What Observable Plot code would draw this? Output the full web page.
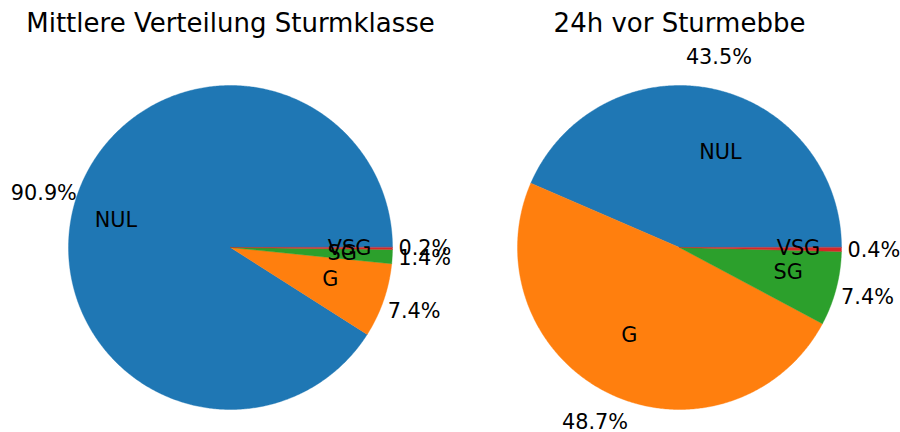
<!DOCTYPE html>
<html>
<head>
<meta charset="utf-8">
<script src="https://cdn.jsdelivr.net/npm/d3@7"></script>
<script src="https://cdn.jsdelivr.net/npm/@observablehq/plot@0.6"></script>
<style>
  html, body { margin: 0; padding: 0; background: #fff; }
</style>
</head>
<body>
<div id="chart"></div>
<script>
const classes = ["NUL", "G", "SG", "VSG"];
const charts = ["Mittlere Verteilung Sturmklasse", "24h vor Sturmebbe"];
const meanShares = [90.9, 7.4, 1.4, 0.2];
const preEbbShares = [43.5, 48.7, 7.4, 0.4];
const colors = ["#1f77b4", "#ff7f0e", "#2ca02c", "#d62728"];

const series = [meanShares, preEbbShares];
const labelDistance = 0.6;
const pctDistance = 1.2;

const polyPoints = [];
const labels = [];
series.forEach((vals, ci) => {
  const total = d3.sum(vals);
  let start = 0;
  vals.forEach((v, i) => {
    const a0 = start / total * 2 * Math.PI;
    const a1 = (start + v) / total * 2 * Math.PI;
    start += v;
    const key = charts[ci] + "|" + classes[i];
    polyPoints.push({chart: charts[ci], cls: classes[i], key, x: 0, y: 0});
    const n = Math.max(2, Math.ceil((a1 - a0) / (Math.PI / 360)));
    for (let k = 0; k <= n; k++) {
      const a = a0 + (a1 - a0) * k / n;
      polyPoints.push({chart: charts[ci], cls: classes[i], key, x: Math.cos(a), y: Math.sin(a)});
    }
    const mid = (a0 + a1) / 2;
    labels.push({
      chart: charts[ci], cls: classes[i],
      lx: labelDistance * Math.cos(mid), ly: labelDistance * Math.sin(mid),
      px: pctDistance * Math.cos(mid), py: pctDistance * Math.sin(mid),
      pct: v.toFixed(1) + "%"
    });
  });
});

const titles = charts.map(c => ({chart: c}));
const font = "DejaVu Sans";
const fs = 20.8;

const chart = Plot.plot({
  width: 900,
  height: 432,
  marginTop: 0, marginBottom: 0, marginLeft: 0, marginRight: 2,
  style: {fontFamily: font, background: "#fff"},
  fx: {domain: charts, axis: null, padding: 0},
  x: {domain: [-230 / 162, 219 / 162], axis: null},
  y: {domain: [-(432 - 247) / 162, 247 / 162], axis: null},
  color: {domain: classes, range: colors},
  marks: [
    Plot.line(polyPoints, {
      fx: "chart", x: "x", y: "y", z: "key",
      fill: "cls", stroke: "cls", strokeWidth: 0.4,
      curve: "linear-closed"
    }),
    Plot.text(labels.filter(d => d.lx > 0), {
      fx: "chart", x: "lx", y: "ly", text: "cls",
      textAnchor: "start", fill: "black", fontSize: fs, fontFamily: font
    }),
    Plot.text(labels.filter(d => d.lx <= 0), {
      fx: "chart", x: "lx", y: "ly", text: "cls",
      textAnchor: "end", fill: "black", fontSize: fs, fontFamily: font
    }),
    Plot.text(labels, {
      fx: "chart", x: "px", y: "py", text: "pct",
      textAnchor: "middle", fill: "black", fontSize: fs, fontFamily: font
    }),
    Plot.text(titles, {
      fx: "chart", x: () => 0, text: "chart", frameAnchor: "top", dy: 13,
      textAnchor: "middle", fill: "black", fontSize: 26, fontFamily: font
    })
  ]
});
document.getElementById("chart").appendChild(chart);
</script>
</body>
</html>
